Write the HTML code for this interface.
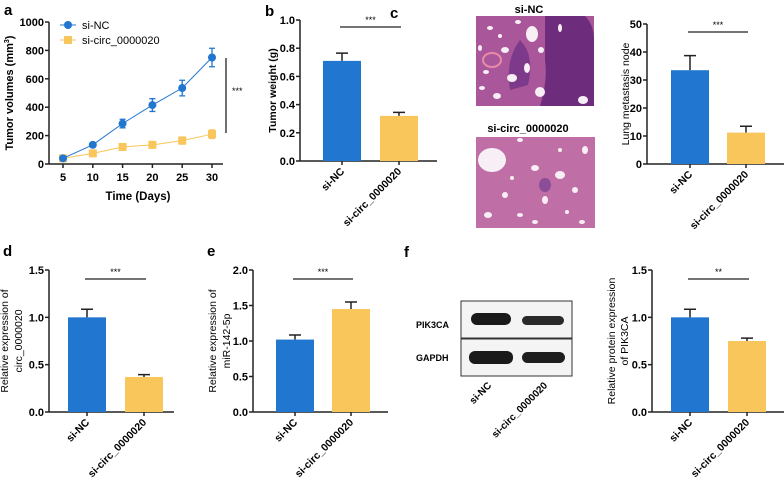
<!DOCTYPE html>
<html><head><meta charset="utf-8"><style>
html,body{margin:0;padding:0;background:#fff;}
svg{display:block;font-family:"Liberation Sans",Arial,sans-serif;font-weight:bold;}
</style></head><body>
<svg id="fig" width="784" height="484" viewBox="0 0 784 484">
<g id="hist">
 <text x="390" y="18" font-size="15">c</text>
 <text x="529" y="13" font-size="11" text-anchor="middle">si-NC</text>
 <rect x="476" y="16" width="118" height="90" fill="#a9569a"/>
 <path d="M545 16 L585 16 Q594 25 594 40 L594 106 L540 106 Q548 80 545 60 Z" fill="#6d2c7c"/>
 <path d="M520 40 Q535 55 528 85 L510 90 Q505 60 520 40Z" fill="#7e3a8a"/>
 <g fill="#f8eef5">
  <ellipse cx="532" cy="34" rx="6" ry="8"/><ellipse cx="490" cy="28" rx="3" ry="2"/><ellipse cx="505" cy="50" rx="4" ry="3"/>
  <ellipse cx="512" cy="78" rx="5" ry="4"/><ellipse cx="486" cy="72" rx="3" ry="2"/><ellipse cx="540" cy="92" rx="5" ry="5"/>
  <ellipse cx="497" cy="96" rx="4" ry="3"/><ellipse cx="527" cy="68" rx="3" ry="5"/><ellipse cx="480" cy="48" rx="2" ry="3"/>
  <ellipse cx="518" cy="22" rx="3" ry="2"/><ellipse cx="560" cy="28" rx="2" ry="4"/><ellipse cx="583" cy="100" rx="5" ry="4"/>
  <ellipse cx="482" cy="88" rx="3" ry="2"/><ellipse cx="500" cy="36" rx="2" ry="2"/><ellipse cx="541" cy="50" rx="3" ry="3"/>
 </g>
 <ellipse cx="492" cy="60" rx="9" ry="7" fill="none" stroke="#e88aa8" stroke-width="2"/>
 <text x="528" y="132" font-size="11" text-anchor="middle">si-circ_0000020</text>
 <rect x="476" y="137" width="119" height="91" fill="#c06fa6"/>
 <g fill="#f8eef5">
  <ellipse cx="492" cy="160" rx="14" ry="12"/><ellipse cx="520" cy="140" rx="3" ry="2"/><ellipse cx="535" cy="168" rx="4" ry="3"/>
  <ellipse cx="560" cy="175" rx="5" ry="4"/><ellipse cx="505" cy="195" rx="3" ry="3"/><ellipse cx="488" cy="215" rx="4" ry="3"/>
  <ellipse cx="520" cy="215" rx="3" ry="2"/><ellipse cx="545" cy="200" rx="3" ry="4"/><ellipse cx="575" cy="190" rx="3" ry="3"/>
  <ellipse cx="585" cy="150" rx="3" ry="4"/><ellipse cx="560" cy="150" rx="2" ry="2"/><ellipse cx="535" cy="222" rx="3" ry="2"/>
  <ellipse cx="567" cy="212" rx="2" ry="2"/><ellipse cx="512" cy="178" rx="2" ry="2"/><ellipse cx="582" cy="222" rx="3" ry="2"/>
 </g>
 <ellipse cx="545" cy="185" rx="6" ry="7" fill="#8b4d98"/>
</g>
<g id="blot">
 <text x="404" y="257" font-size="15">f</text>
 <rect x="461" y="301" width="111" height="37" fill="#f4f4f4" stroke="#333"/>
 <rect x="461" y="339" width="111" height="37" fill="#f4f4f4" stroke="#333"/>
 <rect x="471" y="313" width="40" height="12" rx="6" fill="#1a1a1a"/><rect x="522" y="316" width="42" height="9" rx="4.5" fill="#2a2a2a"/>
 <rect x="469" y="351" width="44" height="13" rx="6" fill="#1a1a1a"/><rect x="522" y="352" width="43" height="11" rx="5.5" fill="#1e1e1e"/>
 <text x="416" y="328" font-size="9">PIK3CA</text>
 <text x="416" y="361" font-size="9">GAPDH</text>
 <text transform="translate(492,386) rotate(-45)" font-size="10" text-anchor="end">si-NC</text>
 <text transform="translate(548,386) rotate(-45)" font-size="10" text-anchor="end">si-circ_0000020</text>
</g>
</svg>
<script>
// Panel a data
const aDays = [5, 10, 15, 20, 25, 30];
const aNC = [40, 135, 285, 415, 535, 750];
const aNCerr = [5, 10, 30, 45, 55, 65];
const aCirc = [40, 75, 120, 135, 165, 210];
const aCircErr = [5, 10, 10, 10, 25, 30];
const aYTicks = [0, 200, 400, 600, 800, 1000];
// Bar panels
const barCats = ["si-NC", "si-circ_0000020"];
const bVals = [0.71, 0.32], bErr = [0.055, 0.025], bTicks = [0, 0.2, 0.4, 0.6, 0.8, 1.0];
const cVals = [33.5, 11.2], cErr = [5.2, 2.3], cTicks = [0, 10, 20, 30, 40, 50];
const dVals = [1.0, 0.37], dErr = [0.085, 0.025], dTicks = [0, 0.5, 1.0, 1.5];
const eVals = [1.02, 1.45], eErr = [0.065, 0.1], eTicks = [0, 0.5, 1.0, 1.5, 2.0];
const fVals = [1.0, 0.75], fErr = [0.085, 0.03], fTicks = [0, 0.5, 1.0, 1.5];

const NS = "http://www.w3.org/2000/svg";
const fig = document.getElementById("fig");
const BLUE = "#2176cf", YEL = "#f8c65a";
function el(tag, attrs, parent, txt) {
  const e = document.createElementNS(NS, tag);
  for (const k in attrs) e.setAttribute(k, attrs[k]);
  if (txt !== undefined) e.textContent = txt;
  (parent || fig).appendChild(e);
  return e;
}
function fmt(v, dec) { return dec ? v.toFixed(1) : String(v); }

// ---- Panel a ----
(function () {
  const g = el("g", {});
  
  
  const x0 = 49, yB = 164, yT = 22, xa = 63, xb = 212;
  const X = d => xa + (d - 5) / 25 * (xb - xa);
  const Y = v => yB - v / 1000 * (yB - yT);
  const lab = el("text", { x: 4, y: 15, "font-size": 15 }, g, "a");
  
  
  el("line", { x1: x0, y1: yT, x2: x0, y2: yB, stroke: "#222", "stroke-width": 1.5 }, g);
  el("line", { x1: x0, y1: yB, x2: 223, y2: yB, stroke: "#222", "stroke-width": 1.5 }, g);
  aYTicks.forEach(t => {
    el("line", { x1: x0 - 4, y1: Y(t), x2: x0, y2: Y(t), stroke: "#222", "stroke-width": 1.5 }, g);
    const tx = el("text", { x: x0 - 5, y: Y(t) + 4, "font-size": 11, "text-anchor": "end" }, g, t);
    
    
  });
  aDays.forEach(d => {
    el("line", { x1: X(d), y1: yB, x2: X(d), y2: yB + 4, stroke: "#222", "stroke-width": 1.5 }, g);
    const tx = el("text", { x: X(d), y: yB + 17, "font-size": 11, "text-anchor": "middle" }, g, d);
    
    
  });
  const xt = el("text", { x: 138, y: 200, "font-size": 11.5, "text-anchor": "middle" }, g, "Time (Days)");
  
  
  const yt = el("text", { transform: "translate(13,93) rotate(-90)", "font-size": 11, "text-anchor": "middle" }, g);
  
  
  yt.innerHTML = 'Tumor volumes (mm<tspan font-size="7" dy="-4">3</tspan><tspan dy="4">)</tspan>';
  function series(vals, errs, col, sq, name) {
    const s = el("g", {}, g);
    
    
    el("polyline", { points: aDays.map((d, i) => X(d) + "," + Y(vals[i])).join(" "), fill: "none", stroke: col, "stroke-width": 1 }, s);
    aDays.forEach((d, i) => {
      const x = X(d);
      el("path", { d: `M${x},${Y(vals[i] - errs[i])}V${Y(vals[i] + errs[i])}M${x - 3},${Y(vals[i] + errs[i])}h6M${x - 3},${Y(vals[i] - errs[i])}h6`, stroke: col, "stroke-width": 1.3, fill: "none" }, s);
      const m = sq ? el("rect", { x: x - 4, y: Y(vals[i]) - 4, width: 8, height: 8, fill: col }, s)
                   : el("circle", { cx: x, cy: Y(vals[i]), r: 4, fill: col }, s);
      
      
    });
  }
  series(aCirc, aCircErr, YEL, true, "series-si-circ");
  series(aNC, aNCerr, BLUE, false, "series-si-nc");
  const lg = el("g", {}, g);
  
  
  el("line", { x1: 60, y1: 25, x2: 76, y2: 25, stroke: BLUE }, lg);
  el("circle", { cx: 68, cy: 25, r: 4, fill: BLUE }, lg);
  el("text", { x: 82, y: 29, "font-size": 11, "font-weight": "normal" }, lg, "si-NC");
  el("line", { x1: 60, y1: 40, x2: 76, y2: 40, stroke: YEL }, lg);
  el("rect", { x: 64, y: 36, width: 8, height: 8, fill: YEL }, lg);
  el("text", { x: 82, y: 44, "font-size": 11, "font-weight": "normal" }, lg, "si-circ_0000020");
  el("line", { x1: 226, y1: 58, x2: 226, y2: 133, stroke: "#222", "stroke-width": 1.3 }, g);
  el("text", { x: 232, y: 94, "font-size": 9, "font-weight": "normal" }, g, "***");
})();

// ---- Bar chart helper ----
function barChart(o) {
  const g = el("g", {});
  
  
  const max = o.ticks[o.ticks.length - 1];
  const Y = v => o.yB - v / max * (o.yB - o.yT);
  if (o.label) {
    const l = el("text", { x: o.label[1], y: o.label[2], "font-size": 15 }, g, o.label[0]);
    
    
  }
  el("line", { x1: o.x0, y1: o.yT, x2: o.x0, y2: o.yB, stroke: "#222", "stroke-width": 1.5 }, g);
  el("line", { x1: o.x0, y1: o.yB, x2: o.xEnd, y2: o.yB, stroke: "#222", "stroke-width": 1.5 }, g);
  o.ticks.forEach(t => {
    el("line", { x1: o.x0 - 4, y1: Y(t), x2: o.x0, y2: Y(t), stroke: "#222", "stroke-width": 1.5 }, g);
    const tx = el("text", { x: o.x0 - 5, y: Y(t) + 4, "font-size": 11, "text-anchor": "end" }, g, fmt(t, o.dec));
    
    
  });
  const cols = [BLUE, YEL];
  barCats.forEach((c, i) => {
    const bx = o.bx[i], bw = o.bw, cx = bx + bw / 2;
    const v = o.vals[i], e = o.err[i];
    el("path", { d: `M${cx},${Y(v)}V${Y(v + e)}M${cx - 6},${Y(v + e)}h12`, stroke: "#222", "stroke-width": 1.5, fill: "none" }, g);
    const b = el("rect", { x: bx, y: Y(v), width: bw, height: o.yB - Y(v), fill: cols[i] }, g);
    
    
    el("line", { x1: cx, y1: o.yB, x2: cx, y2: o.yB + 4, stroke: "#222", "stroke-width": 1.5 }, g);
    const tx = el("text", { transform: `translate(${cx + 3},${o.yB + 11}) rotate(-45)`, "font-size": 10.5, "text-anchor": "end" }, g, c);
    
    
  });
  const c0 = o.bx[0] + o.bw / 2 + 3, c1 = o.bx[1] + o.bw / 2 - 3;
  el("line", { x1: c0 - 5, y1: o.sigY, x2: c1 + 5, y2: o.sigY, stroke: "#222", "stroke-width": 1.3 }, g);
  const st = el("text", { x: (c0 + c1) / 2, y: o.sigY - 4, "font-size": 9, "font-weight": "normal", "text-anchor": "middle" }, g, o.sig);
  
  
  const yc = (o.yT + o.yB) / 2;
  o.ytitle.forEach((t, k) => {
    const tx = el("text", { transform: `translate(${o.ytx[k]},${yc}) rotate(-90)`, "font-size": 10.5, "font-weight": o.ytw || "normal", "text-anchor": "middle" }, g, t);
    
    
  });
}

barChart({ name: "tumor-weight-chart", label: ["b", 265, 16], x0: 300, yT: 20, yB: 161, xEnd: 437, bx: [323, 380], bw: 38,
  vals: bVals, err: bErr, ticks: bTicks, dec: true, sigY: 27, sig: "***", ytitle: ["Tumor weight (g)"], ytx: [276], ytw: "bold" });
barChart({ name: "lung-metastasis-chart", x0: 647, yT: 24, yB: 164, xEnd: 784, bx: [671, 727], bw: 38,
  vals: cVals, err: cErr, ticks: cTicks, dec: false, sigY: 32, sig: "***", ytitle: ["Lung metastasis node"], ytx: [629] });
barChart({ name: "circ-expression-chart", label: ["d", 3, 256], x0: 49, yT: 270, yB: 412, xEnd: 174, bx: [68, 125], bw: 38,
  vals: dVals, err: dErr, ticks: dTicks, dec: true, sigY: 279, sig: "***", ytitle: ["Relative expression of", "circ_0000020"], ytx: [8, 22] });
barChart({ name: "mir-expression-chart", label: ["e", 207, 256], x0: 253, yT: 270, yB: 412, xEnd: 388, bx: [276, 332], bw: 38,
  vals: eVals, err: eErr, ticks: eTicks, dec: true, sigY: 279, sig: "***", ytitle: ["Relative expression of", "miR-142-5p"], ytx: [216, 230] });
barChart({ name: "pik3ca-expression-chart", x0: 652, yT: 270, yB: 412, xEnd: 784, bx: [671, 728], bw: 38,
  vals: fVals, err: fErr, ticks: fTicks, dec: true, sigY: 279, sig: "**", ytitle: ["Relative protein expression", "of PIK3CA"], ytx: [615, 628] });
</script>
</body></html>
